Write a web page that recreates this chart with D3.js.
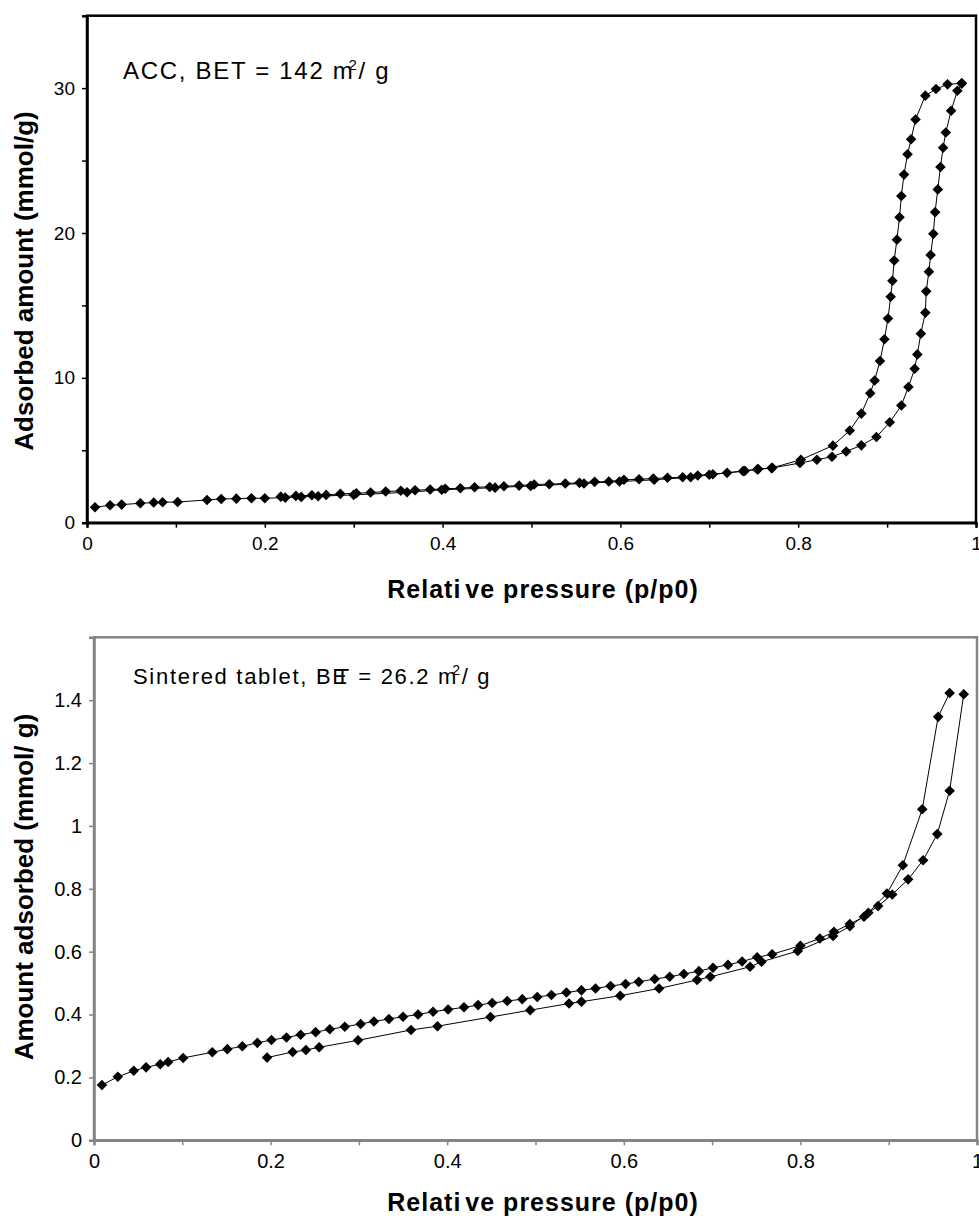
<!DOCTYPE html>
<html>
<head>
<meta charset="utf-8">
<script src="https://cdn.jsdelivr.net/npm/d3@7"></script>
<style>
  body { margin: 0; background: #fff; }
  svg { display: block; font-family: Arial, "Liberation Sans", sans-serif; }
</style>
</head>
<body>
<div id="plot"></div>
<script>
// ACC isotherm, [p/p0, mmol/g]
const accAdsorption = [
  [0.009,1.07],[0.026,1.2],[0.039,1.25],[0.06,1.34],[0.075,1.39],[0.085,1.41],[0.102,1.43],
  [0.135,1.57],[0.151,1.64],[0.168,1.66],[0.185,1.69],[0.2,1.69],[0.223,1.73],[0.241,1.78],
  [0.26,1.83],[0.3,1.92],[0.36,2.1],[0.399,2.27],[0.459,2.42],[0.499,2.54],[0.559,2.71],
  [0.599,2.84],[0.638,2.96],[0.679,3.14],[0.7,3.31],[0.738,3.56],[0.754,3.68],[0.77,3.77],
  [0.802,4.12],[0.821,4.35],[0.838,4.55],[0.854,4.92],[0.871,5.34],[0.888,5.92],[0.903,6.93],
  [0.916,8.09],[0.924,9.37],[0.931,10.63],[0.934,11.62],[0.938,13.05],[0.943,14.5],[0.944,15.97],
  [0.947,17.33],[0.949,18.48],[0.952,19.94],[0.954,21.44],[0.957,23.01],[0.96,24.56],[0.963,25.88],
  [0.966,26.94],[0.972,28.44],[0.979,29.82],[0.984,30.33]
];
const accDesorption = [
  [0.984,30.33],[0.968,30.26],[0.955,29.94],[0.943,29.48],[0.932,27.84],[0.927,26.47],[0.923,25.43],
  [0.919,24.03],[0.916,22.55],[0.914,21.09],[0.911,19.54],[0.908,18.1],[0.906,16.7],[0.904,15.6],
  [0.901,14.1],[0.897,12.66],[0.892,11.16],[0.886,9.82],[0.881,8.94],[0.871,7.53],[0.858,6.36],
  [0.839,5.32],[0.803,4.35],[0.771,3.79],[0.755,3.7],[0.74,3.58],[0.72,3.44],[0.704,3.35],
  [0.687,3.26],[0.67,3.14],[0.653,3.1],[0.637,3.05],[0.621,3.0],[0.604,2.96],[0.587,2.84],
  [0.571,2.82],[0.554,2.75],[0.538,2.71],[0.52,2.66],[0.503,2.64],[0.486,2.56],[0.469,2.52],
  [0.453,2.47],[0.436,2.45],[0.42,2.38],[0.403,2.34],[0.386,2.29],[0.369,2.24],[0.353,2.2],
  [0.336,2.15],[0.319,2.08],[0.303,2.03],[0.285,1.99],[0.269,1.92],[0.253,1.9],[0.235,1.85],
  [0.218,1.8]
];

// sintered tablet isotherm
const tabletUpper = [
  [0.009,0.176],[0.027,0.202],[0.045,0.221],[0.059,0.232],[0.075,0.242],[0.084,0.249],[0.101,0.262],
  [0.134,0.28],[0.151,0.29],[0.168,0.299],[0.185,0.31],[0.201,0.319],[0.218,0.327],[0.234,0.336],
  [0.251,0.344],[0.267,0.353],[0.284,0.361],[0.302,0.37],[0.317,0.378],[0.334,0.386],[0.35,0.393],
  [0.367,0.4],[0.384,0.409],[0.401,0.416],[0.419,0.423],[0.435,0.43],[0.451,0.437],[0.468,0.443],
  [0.485,0.449],[0.502,0.456],[0.518,0.462],[0.535,0.47],[0.552,0.477],[0.568,0.483],[0.585,0.491],
  [0.602,0.497],[0.617,0.504],[0.635,0.513],[0.652,0.52],[0.668,0.529],[0.685,0.538],[0.701,0.549],
  [0.718,0.558],[0.734,0.569],[0.751,0.582],[0.768,0.592],[0.8,0.619],[0.822,0.642],[0.838,0.663],
  [0.856,0.688],[0.872,0.711],[0.877,0.724],[0.898,0.785],[0.916,0.875],[0.938,1.053],[0.956,1.347],
  [0.969,1.423]
];
const tabletLower = [
  [0.985,1.419],[0.969,1.112],[0.955,0.974],[0.939,0.891],[0.922,0.83],[0.904,0.782],[0.888,0.745],
  [0.856,0.681],[0.837,0.65],[0.797,0.602],[0.756,0.568],[0.743,0.552],[0.698,0.52],[0.683,0.51],
  [0.64,0.483],[0.596,0.46],[0.552,0.441],[0.538,0.435],[0.494,0.414],[0.449,0.392],[0.389,0.363],
  [0.359,0.351],[0.299,0.318],[0.255,0.296],[0.24,0.287],[0.225,0.281],[0.196,0.263]
];

const xTicks = [0, 0.1, 0.2, 0.3, 0.4, 0.5, 0.6, 0.7, 0.8, 0.9, 1];
const xTickLabels = ["0", "0.2", "0.4", "0.6", "0.8", "1"];
const accYTicks = [0, 5, 10, 15, 20, 25, 30, 35];
const accYTickLabels = ["0", "10", "20", "30"];
const tabletYTicks = [0, 0.2, 0.4, 0.6, 0.8, 1, 1.2, 1.4, 1.6];
const tabletYTickLabels = ["0", "0.2", "0.4", "0.6", "0.8", "1", "1.2", "1.4"];

const svg = d3.select("#plot")
    .append("svg")
    .attr("width", 979)
    .attr("height", 1218);

const diamond = d3.symbol().type(d3.symbolSquare).size(56);

function drawPanel(o) {
    const x = d3.scaleLinear().domain([0, 1]).range([o.left, o.right]);
    const y = d3.scaleLinear().domain(o.yDomain).range([o.bottom, o.top]);
    const g = svg.append("g");

    // frame
    g.append("rect")
        .attr("x", o.left).attr("y", o.top)
        .attr("width", o.right - o.left).attr("height", o.bottom - o.top)
        .attr("fill", "none")
        .attr("stroke", o.frame)
        .attr("stroke-width", 2.5);

    // axes
    const xAxis = g.append("g")
        .attr("transform", `translate(0,${o.bottom})`)
        .call(d3.axisBottom(x).tickValues(xTicks).tickSize(5)
            .tickFormat(d => xTickLabels.includes(String(+d.toFixed(1))) ? String(+d.toFixed(1)) : ""));
    const yAxis = g.append("g")
        .attr("transform", `translate(${o.left},0)`)
        .call(d3.axisLeft(y).tickValues(o.yTicks).tickSize(5)
            .tickFormat(d => o.yLabels.includes(String(+d.toFixed(1))) ? String(+d.toFixed(1)) : ""));

    [xAxis, yAxis].forEach(a => {
        a.select(".domain").attr("stroke", o.frame).attr("stroke-width", 2.5);
        a.selectAll(".tick line").attr("stroke", o.frame).attr("stroke-width", 1.5);
        a.selectAll(".tick text")
            .attr("fill", "#000")
            .style("font-family", "Arial, 'Liberation Sans', sans-serif")
            .style("font-size", o.tickFont + "px");
    });
    xAxis.selectAll(".tick text").attr("y", o.xLabelDy);
    yAxis.selectAll(".tick text").attr("x", -12);

    // series
    const line = d3.line().x(d => x(d[0])).y(d => y(d[1]));
    o.series.forEach(s => {
        g.append("path")
            .datum(s)
            .attr("d", line)
            .attr("fill", "none")
            .attr("stroke", "#000")
            .attr("stroke-width", 1);
        g.selectAll(null)
            .data(s)
            .enter()
            .append("path")
            .attr("d", diamond)
            .attr("transform", d => `translate(${x(d[0])},${y(d[1])}) rotate(45)`)
            .attr("fill", "#000");
    });

    // axis titles
    g.append("text")
        .attr("x", 543)
        .attr("y", o.xTitleY)
        .attr("text-anchor", "middle")
        .style("font-weight", "bold")
        .style("font-size", "25px")
        .style("letter-spacing", "1px")
        .text("Relati")
        .append("tspan").attr("dx", 4).text("ve pressure (p/p0)");

    g.append("text")
        .attr("transform", `translate(33,${o.yTitleY}) rotate(-90)`)
        .attr("text-anchor", "middle")
        .style("font-weight", "bold")
        .style("font-size", "26px")
        .text(o.yTitle);

    // annotation
    const note = g.append("text")
        .attr("x", o.noteX)
        .attr("y", o.noteY)
        .style("font-size", o.noteFont + "px")
        .style("letter-spacing", o.noteSpacing + "px");
    o.note(note);
}

drawPanel({
    left: 87, right: 976, top: 15.7, bottom: 522.7,
    yDomain: [0, 35], yTicks: accYTicks, yLabels: accYTickLabels,
    frame: "#000", tickFont: 19, xLabelDy: 14,
    series: [accAdsorption, accDesorption],
    xTitleY: 598, yTitle: "Adsorbed amount  (mmol/g)", yTitleY: 281,
    noteX: 123, noteY: 79, noteFont: 24, noteSpacing: 1.7,
    note: t => {
        t.append("tspan").text("ACC, BET = 142 m");
        t.append("tspan").attr("dx", -6).attr("dy", -9).style("font-size", "15px").text("2");
        t.append("tspan").attr("dy", 9).text("/ g");
    }
});

drawPanel({
    left: 94, right: 977, top: 637.3, bottom: 1140.3,
    yDomain: [0, 1.6], yTicks: tabletYTicks, yLabels: tabletYTickLabels,
    frame: "#848484", tickFont: 20, xLabelDy: 14,
    series: [tabletUpper, tabletLower],
    xTitleY: 1211, yTitle: "Amount adsorbed (mmol/ g)", yTitleY: 887,
    noteX: 133, noteY: 684, noteFont: 22, noteSpacing: 1.7,
    note: t => {
        t.append("tspan").text("Sintered tablet, BE");
        t.append("tspan").attr("dx", -13).text("T");
        t.append("tspan").text(" = 26.2 m");
        t.append("tspan").attr("dx", -6).attr("dy", -9).style("font-size", "14px").text("2");
        t.append("tspan").attr("dy", 9).text("/ g");
    }
});
</script>
</body>
</html>
